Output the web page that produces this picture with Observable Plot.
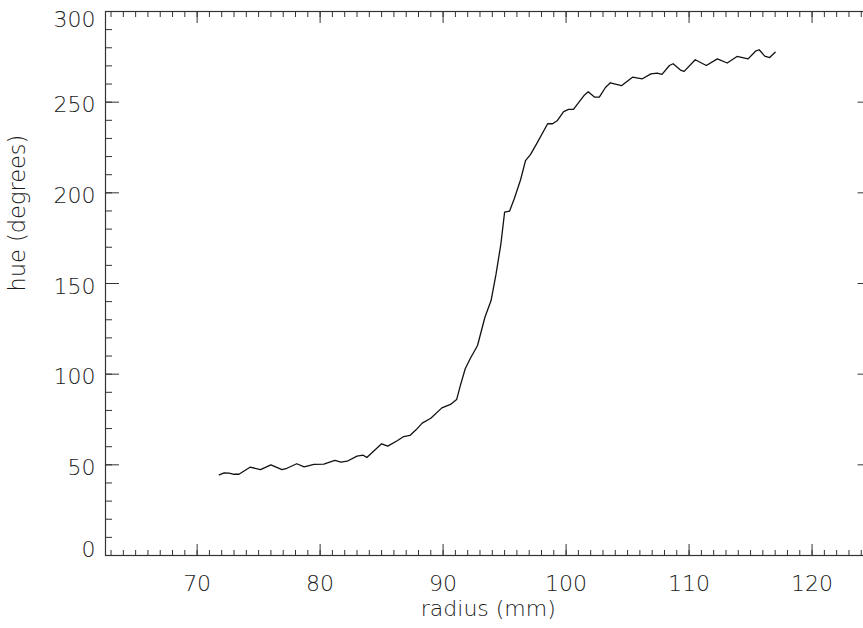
<!DOCTYPE html>
<html>
<head>
<meta charset="utf-8">
<script src="https://cdn.jsdelivr.net/npm/d3@7"></script>
<script src="https://cdn.jsdelivr.net/npm/@observablehq/plot@0.6"></script>
<style>
  html, body { margin: 0; padding: 0; background: #fff; overflow: hidden; }
  #chart svg { overflow: hidden; display: block; }
</style>
</head>
<body>
<div id="chart"></div>
<script>
// data
const radius = [71.8, 72.2, 72.6, 73.0, 73.4, 74.3, 75.15, 76.0, 76.9, 77.3, 78.1, 78.7, 79.5, 80.3, 81.2, 81.7, 82.2, 83.0, 83.5, 83.8, 85.0, 85.5, 86.3, 86.8, 87.3, 87.8, 88.3, 89.0, 89.9, 90.6, 91.1, 91.4, 91.8, 92.2, 92.8, 93.4, 93.9, 94.3, 94.7, 95.0, 95.4, 95.8, 96.3, 96.7, 97.1, 97.6, 98.5, 98.9, 99.3, 99.8, 100.2, 100.6, 101.0, 101.5, 101.8, 102.3, 102.7, 103.2, 103.6, 104.5, 105.4, 106.2, 106.9, 107.4, 107.8, 108.4, 108.7, 109.3, 109.6, 110.5, 111.4, 112.3, 113.1, 113.9, 114.8, 115.4, 115.7, 116.15, 116.55, 117.0];
const hue = [44.5, 45.6, 45.4, 44.8, 44.8, 48.7, 47.4, 50.0, 47.4, 48.1, 50.6, 48.9, 50.2, 50.4, 52.4, 51.5, 52.0, 54.8, 55.3, 54.1, 61.6, 60.3, 63.4, 65.6, 66.2, 69.3, 73.0, 75.7, 81.4, 83.3, 86.0, 93.7, 103.0, 108.5, 115.8, 131.4, 140.6, 155.0, 171.9, 189.3, 189.9, 197.0, 207.2, 217.8, 221.1, 227.0, 238.1, 238.1, 239.9, 244.8, 246.0, 246.0, 249.6, 254.0, 255.7, 252.8, 252.8, 258.1, 260.7, 259.1, 263.8, 262.9, 265.6, 266.0, 265.3, 270.2, 271.2, 267.7, 267.0, 273.4, 270.2, 273.9, 271.6, 275.2, 273.9, 278.1, 278.9, 275.4, 274.6, 277.5];
const xTickLabels = [70, 80, 90, 100, 110, 120];
const yTickLabels = [0, 50, 100, 150, 200, 250, 300];
const xMinorTicks = d3.range(63, 125, 1);
const yMinorTicks = d3.range(0, 301, 10);
const xTitle = "radius (mm)";
const yTitle = "hue (degrees)";

const points = radius.map((r, i) => ({radius: r, hue: hue[i]}));

const FONT = "DejaVu Sans";
const axisColor = "#333";
const textColor = "#1a1a1a";

const tickAxis = (fn, ticks, anchor, size) =>
  fn({ticks, anchor, tickSize: size, text: null, label: null, stroke: axisColor});

const plot = Plot.plot({
  width: 863,
  height: 628,
  marginLeft: 105,
  marginRight: -7.6,
  marginTop: 11,
  marginBottom: 73,
  style: {fontFamily: FONT, background: "#fff"},
  x: {domain: [62.55, 124.8]},
  y: {domain: [0, 300]},
  marks: [
    Plot.frame({stroke: axisColor, strokeWidth: 1.2}),
    // minor ticks
    tickAxis(Plot.axisX, xMinorTicks, "bottom", -5),
    tickAxis(Plot.axisX, xMinorTicks, "top", -5),
    tickAxis(Plot.axisY, yMinorTicks, "left", -7),
    tickAxis(Plot.axisY, yMinorTicks, "right", -7),
    // major ticks
    tickAxis(Plot.axisX, xTickLabels, "bottom", -11),
    tickAxis(Plot.axisX, xTickLabels, "top", -11),
    tickAxis(Plot.axisY, yTickLabels, "left", -14),
    tickAxis(Plot.axisY, yTickLabels, "right", -14),
    // tick labels
    Plot.text(xTickLabels, {x: d => d, frameAnchor: "bottom", dy: 35, text: d => String(d),
      fontSize: 22, fontWeight: 200, fill: textColor, lineAnchor: "bottom"}),
    Plot.text(yTickLabels.filter(d => d > 0 && d < 300), {y: d => d, frameAnchor: "left", dx: -10, dy: 3, text: d => String(d),
      textAnchor: "end", fontSize: 22, fontWeight: 200, fill: textColor, lineAnchor: "middle"}),
    Plot.text([300], {y: d => d, frameAnchor: "left", dx: -10, dy: 8, text: d => String(d),
      textAnchor: "end", fontSize: 22, fontWeight: 200, fill: textColor, lineAnchor: "middle"}),
    Plot.text([0], {y: d => d, frameAnchor: "left", dx: -10, dy: -6, text: d => String(d),
      textAnchor: "end", fontSize: 22, fontWeight: 200, fill: textColor, lineAnchor: "middle"}),
    // axis titles
    Plot.text([xTitle], {frameAnchor: "bottom", dy: 60, text: d => d, fontSize: 22, fontWeight: 200, fill: textColor, lineAnchor: "bottom"}),
    Plot.text([yTitle], {frameAnchor: "left", dx: -81, dy: 8, rotate: -90, text: d => d, fontSize: 22.5, fontWeight: 200, fill: textColor, lineAnchor: "bottom"}),
    // curve
    Plot.line(points, {x: "radius", y: "hue", stroke: "#111", strokeWidth: 1.3})
  ]
});
document.getElementById("chart").appendChild(plot);
</script>
</body>
</html>
